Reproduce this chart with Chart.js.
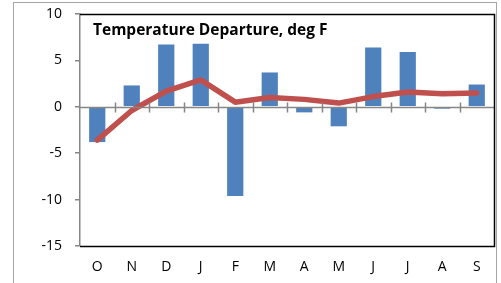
<!DOCTYPE html>
<html>
<head>
<meta charset="utf-8">
<script src="https://cdn.jsdelivr.net/npm/chart.js@4/dist/chart.umd.min.js"></script>
<style>
html,body{margin:0;padding:0;background:#fff;}
#wrap{width:501px;height:283px;position:relative;}
</style>
</head>
<body>
<div id="wrap"><canvas id="c" width="501" height="283"></canvas></div>
<script>
const months = ["O","N","D","J","F","M","A","M","J","J","A","S"];
const departures = [-3.8, 2.3, 6.7, 6.8, -9.6, 3.7, -0.6, -2.1, 6.4, 5.9, -0.2, 2.4];
const trend = [-3.6, -0.4, 1.7, 2.9, 0.5, 1.0, 0.8, 0.4, 1.1, 1.6, 1.4, 1.5];
const yTicks = [-15, -10, -5, 0, 5, 10];
const titleText = "Temperature Departure, deg F";

const FONT = "Open Sans";

const decor = {
  id: 'decor',
  beforeDraw(chart) {
    const ctx = chart.ctx;
    ctx.save();
    ctx.strokeStyle = '#a6a6a6';
    ctx.lineWidth = 1;
    ctx.strokeRect(13.5, 2.5, 483, 300);
    ctx.restore();
  },
  afterDatasetsDraw(chart) {
    const ctx = chart.ctx;
    const a = chart.chartArea;
    const x = chart.scales.x, y = chart.scales.y;
    ctx.save();
    const y0 = Math.round(y.getPixelForValue(0)) + 0.5;
    ctx.strokeStyle = '#868686';
    ctx.lineWidth = 1.5;
    ctx.beginPath();
    ctx.moveTo(a.left, y0); ctx.lineTo(a.right, y0);
    for (let i = 1; i < months.length; i++) {
      const px = Math.round((x.getPixelForValue(i - 1) + x.getPixelForValue(i)) / 2) + 0.5;
      ctx.moveTo(px, y0 - 5); ctx.lineTo(px, y0 + 5);
    }
    ctx.stroke();
    ctx.restore();
  },
  afterDraw(chart) {
    const ctx = chart.ctx;
    const a = chart.chartArea;
    ctx.save();
    ctx.strokeStyle = '#000';
    ctx.lineWidth = 1.5;
    ctx.beginPath();
    ctx.moveTo(a.left, Math.round(a.top) + 0.5);
    ctx.lineTo(Math.round(a.right) + 0.5, Math.round(a.top) + 0.5);
    ctx.lineTo(Math.round(a.right) + 0.5, Math.round(a.bottom) + 0.5);
    ctx.lineTo(a.left, Math.round(a.bottom) + 0.5);
    ctx.stroke();
    ctx.fillStyle = '#000';
    ctx.font = 'bold 15.5px "' + FONT + '"';
    ctx.textBaseline = 'middle';
    ctx.textAlign = 'left';
    ctx.fillText(titleText, a.left + 13, a.top + 17);
    ctx.restore();
  }
};

new Chart(document.getElementById('c'), {
  data: {
    labels: months,
    datasets: [
      {
        type: 'line',
        data: trend,
        borderColor: '#C0504D',
        borderWidth: 5.5,
        pointRadius: 0,
        tension: 0,
        borderCapStyle: 'round',
        borderJoinStyle: 'round',
        order: 0
      },
      {
        type: 'bar',
        data: departures,
        backgroundColor: '#4F81BD',
        barPercentage: 0.47,
        categoryPercentage: 1,
        order: 1
      }
    ]
  },
  options: {
    responsive: false,
    animation: false,
    devicePixelRatio: 1,
    layout: { padding: { top: 14, right: 7, left: 0, bottom: 0 } },
    plugins: { legend: { display: false }, tooltip: { enabled: false }, title: { display: false } },
    scales: {
      x: {
        offset: true,
        grid: { display: false, drawOnChartArea: false, drawTicks: false },
        border: { display: false },
        ticks: { font: { family: FONT, size: 14 }, color: '#000', padding: 13, maxRotation: 0 },
        afterFit(s) { s.height = 37; s.paddingLeft = 0; s.paddingRight = 0; }
      },
      y: {
        min: -15, max: 10,
        afterBuildTicks(s) { s.ticks = yTicks.map(v => ({ value: v })); },
        grid: { drawOnChartArea: false, drawTicks: true, tickLength: 5, color: '#868686', lineWidth: 1.5 },
        border: { display: true, color: '#868686', width: 1.5 },
        ticks: { font: { family: FONT, size: 14 }, color: '#000', padding: 13 },
        afterFit(s) { s.width = 80; s.paddingTop = 0; s.paddingBottom = 0; }
      }
    }
  },
  plugins: [decor]
});
</script>
</body>
</html>
